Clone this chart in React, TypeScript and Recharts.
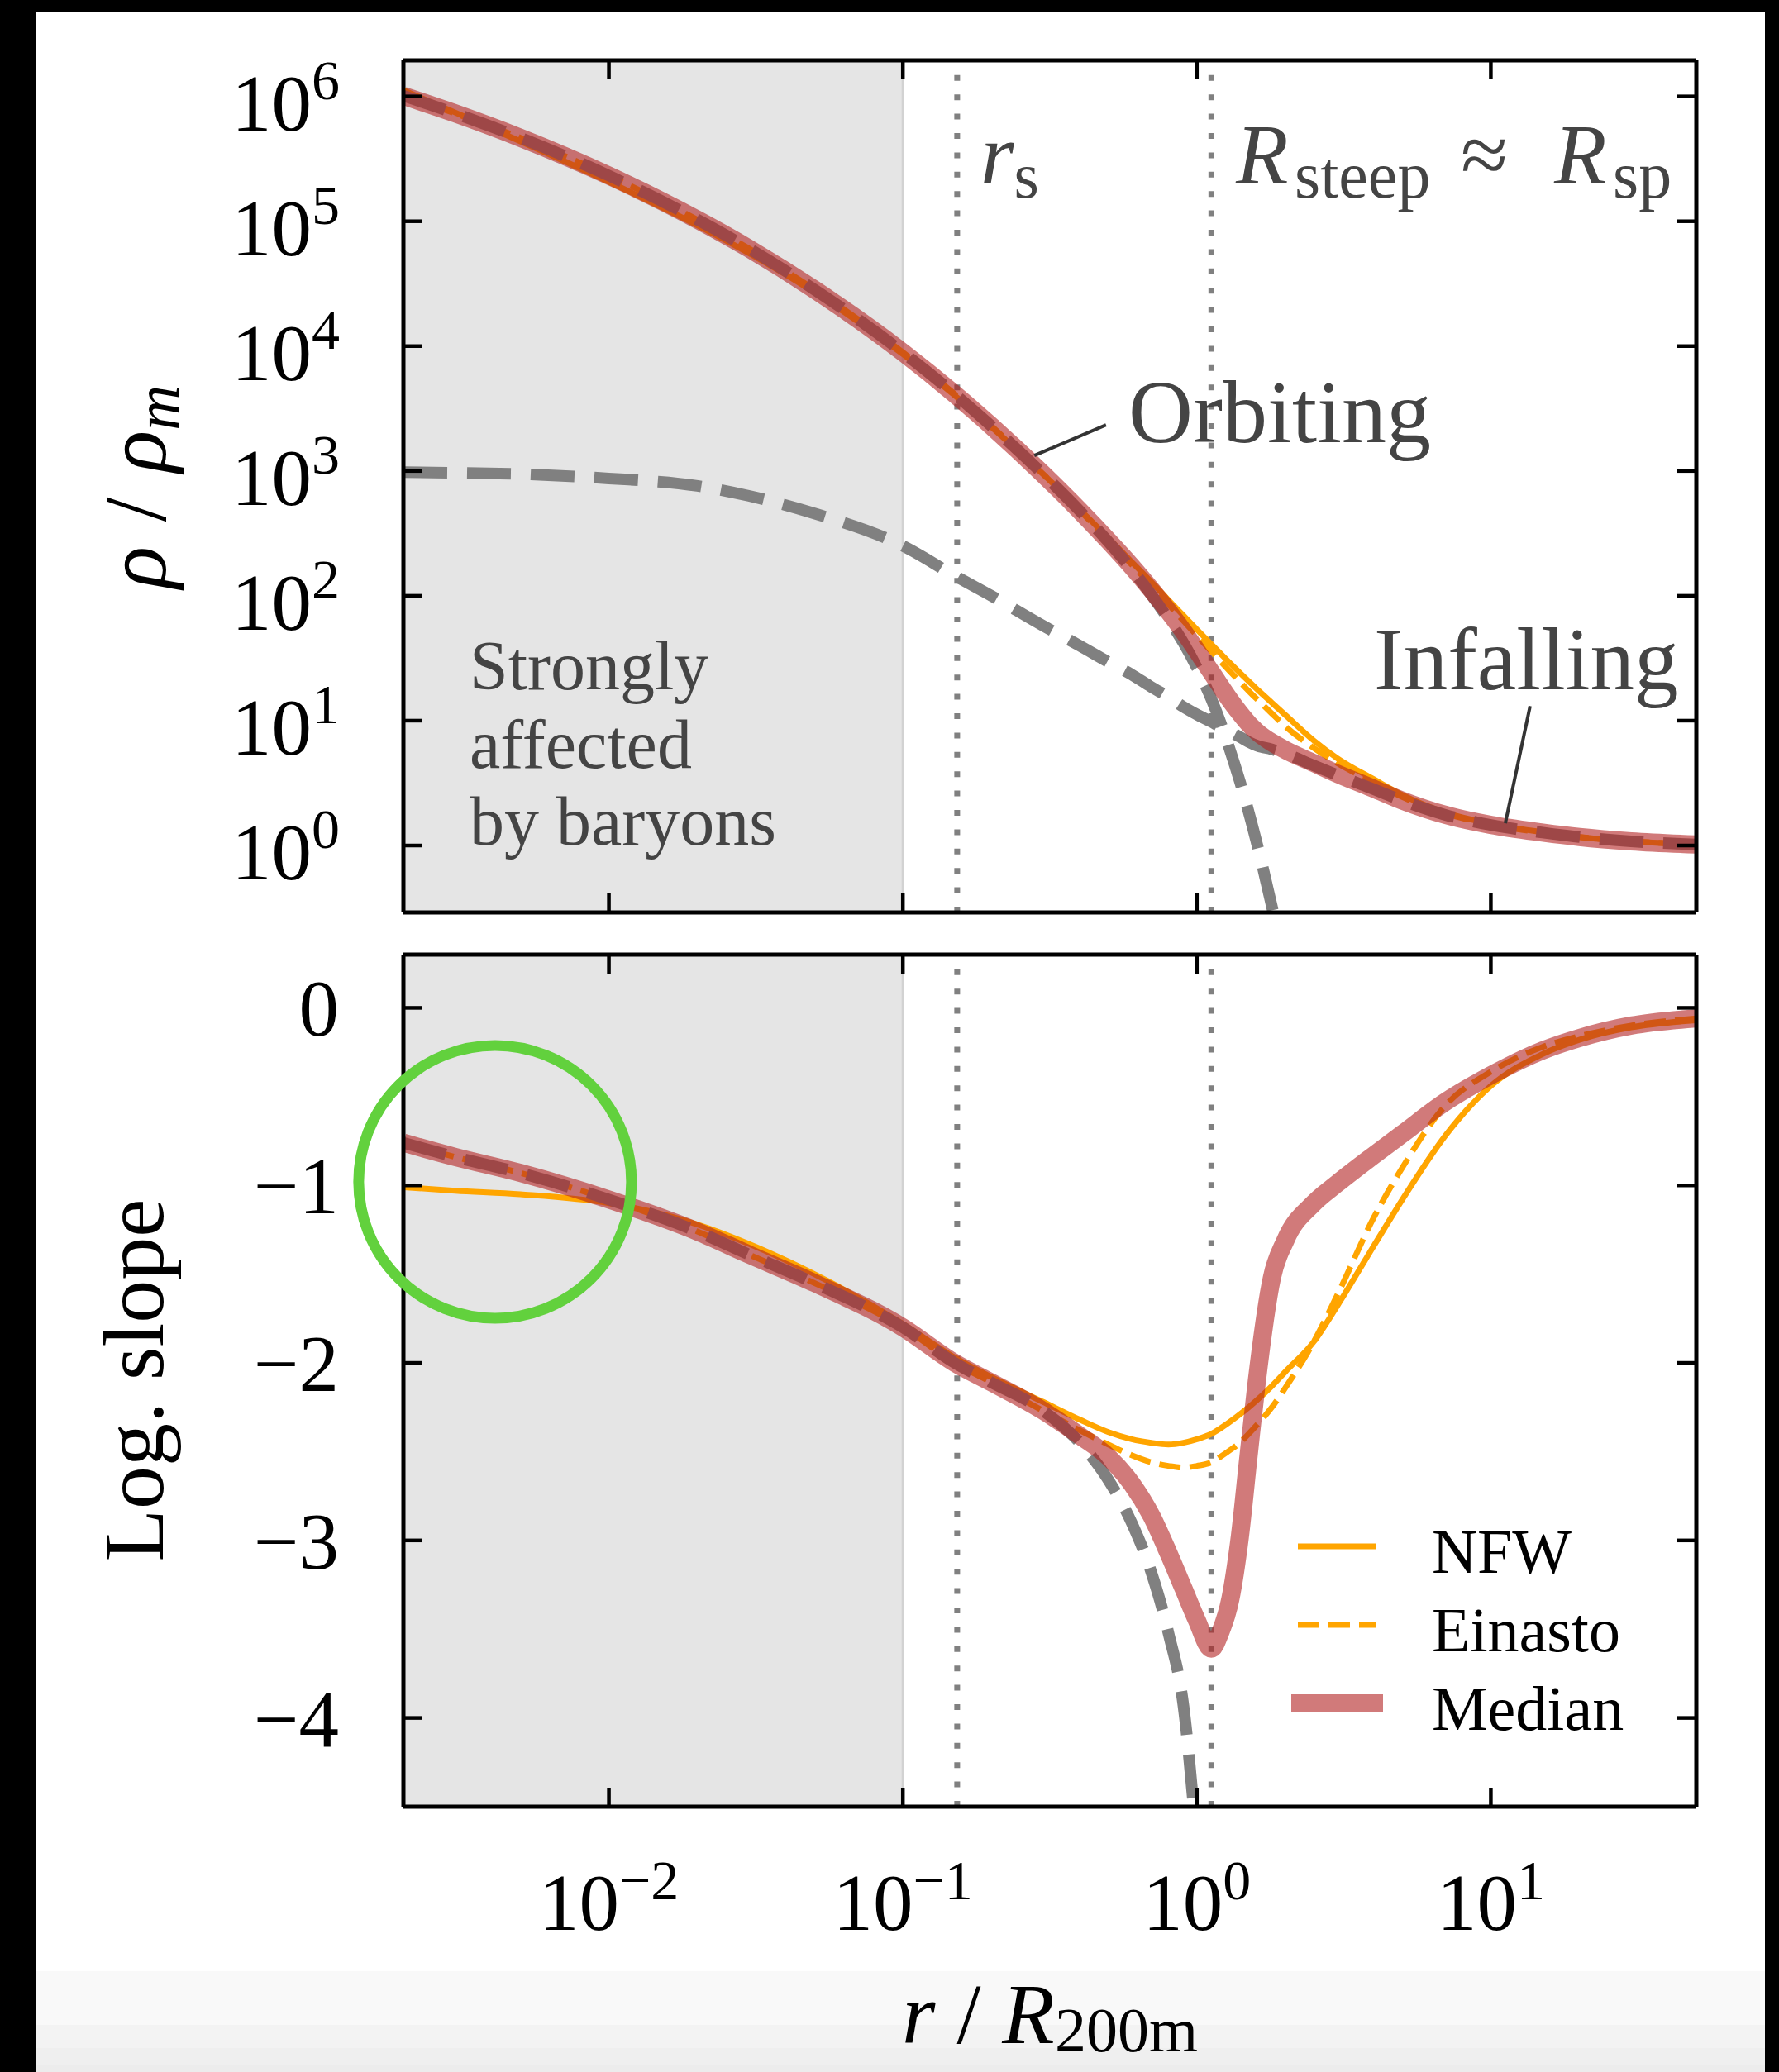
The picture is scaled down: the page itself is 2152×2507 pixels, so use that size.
import React from 'react'
import {
  LineChart,
  Line,
  XAxis,
  YAxis,
  ReferenceArea,
  ReferenceLine,
  ReferenceDot,
} from 'recharts'

const SERIF = '"Liberation Serif", "DejaVu Serif", "Times New Roman", serif'
const FONT = { fontFamily: SERIF }
const INK = '#444444'
const ORANGE = '#ffa500'
const GRAY = '#808080'
const MEDIAN = '#b22222'

// r / R200m sample points
const radius = [
  0.002, 0.003, 0.005, 0.01, 0.02, 0.03, 0.05, 0.1, 0.15, 0.2, 0.3, 0.4, 0.5, 0.6, 0.7, 0.8, 0.9, 1.0,
  1.12, 1.2, 1.3, 1.4, 1.5, 1.6, 1.8, 2, 2.5, 3, 4, 5, 7, 10, 15, 20, 30, 50,
]

// rho / rho_m
const densityMedian = [
  1.01e6, 7.31e5, 4.66e5, 2.32e5, 1.03e5, 6.03e4, 2.84e4, 8910, 4130, 2290, 942, 480, 276, 172, 112, 75.3,
  51.9, 36.3, 24.4, 19.1, 14.5, 11.5, 9.46, 8.15, 6.68, 5.82, 4.57, 3.76, 2.85, 2.29, 1.76, 1.46, 1.27, 1.17,
  1.08, 1.02,
]
const densityNfw = [
  1.12e6, 7.43e5, 4.37e5, 2.07e5, 9.27e4, 5.53e4, 2.69e4, 8610, 4030, 2250, 942, 490, 290, 187, 129, 92.7,
  69.5, 53.7, 40.9, 34.7, 28.7, 24.2, 20.7, 17.9, 13.9, 11.1, 6.92, 5.01, 3.39, 2.54, 1.84, 1.49, 1.28, 1.17,
  1.08, 1.02,
]
const densityEinasto = [
  1.01e6, 7.31e5, 4.66e5, 2.32e5, 1.03e5, 6.03e4, 2.84e4, 8910, 4130, 2290, 942, 482, 281, 178, 121, 85.5,
  63.1, 48.0, 35.9, 30.1, 24.6, 20.5, 17.3, 14.9, 11.4, 9.0, 6.03, 4.57, 3.2, 2.45, 1.81, 1.47, 1.27, 1.17,
  1.08, 1.02,
]
const densityOrbiting = [
  1.01e6, 7.31e5, 4.66e5, 2.32e5, 1.03e5, 6.03e4, 2.84e4, 8910, 4130, 2290, 942, 478, 270, 163, 102, 65.0,
  42.0, 26.6, 14.9, 9.84, 5.69, 3.27, 1.86, 1.04, 0.324, 0.1, null, null, null, null, null, null, null, null,
  null, null,
]
const densityInfalling = [
  977, 966, 944, 871, 759, 631, 457, 251, 145, 100, 57.5, 39.8, 29.5, 23.4, 18.6, 15.5, 12.9, 11.2, 9.77,
  8.91, 8.13, 7.41, 6.76, 6.31, 5.89, 5.43, 4.37, 3.67, 2.82, 2.29, 1.76, 1.46, 1.27, 1.17, 1.08, 1.02,
]

// logarithmic slope
const slopeMedian = [
  -0.76, -0.84, -0.93, -1.08, -1.26, -1.39, -1.55, -1.8, -2.0, -2.11, -2.27, -2.41, -2.53, -2.68, -2.86,
  -3.07, -3.27, -3.45, -3.61, -3.52, -3.33, -2.98, -2.52, -2.1, -1.52, -1.31, -1.1, -0.99, -0.83, -0.71,
  -0.53, -0.38, -0.24, -0.17, -0.1, -0.06,
]
const slopeNfw = [
  -1.01, -1.03, -1.05, -1.1, -1.22, -1.33, -1.5, -1.78, -1.97, -2.08, -2.22, -2.32, -2.39, -2.43, -2.45,
  -2.46, -2.45, -2.43, -2.4, -2.37, -2.33, -2.29, -2.25, -2.21, -2.13, -2.05, -1.88, -1.68, -1.34, -1.08,
  -0.72, -0.44, -0.26, -0.18, -0.11, -0.07,
]
const slopeEinasto = [
  -0.76, -0.84, -0.93, -1.08, -1.26, -1.39, -1.55, -1.8, -2.0, -2.11, -2.27, -2.38, -2.46, -2.52, -2.56,
  -2.58, -2.59, -2.58, -2.56, -2.53, -2.49, -2.45, -2.4, -2.35, -2.25, -2.14, -1.88, -1.62, -1.18, -0.9,
  -0.55, -0.36, -0.22, -0.16, -0.1, -0.06,
]
const slopeOrbiting = [
  -0.76, -0.84, -0.93, -1.08, -1.26, -1.39, -1.55, -1.8, -2.0, -2.11, -2.27, -2.45, -2.66, -2.9, -3.18,
  -3.52, -3.93, -4.7, -5.6, null, null, null, null, null, null, null, null, null, null, null, null, null,
  null, null, null, null,
]

const xTicks = [0.01, 0.1, 1, 10]
const densityTicks = [1, 10, 100, 1e3, 1e4, 1e5, 1e6]
const slopeTicks = [0, -1, -2, -3, -4]

const X_DOMAIN: [number, number] = [0.002, 50]
const DENSITY_DOMAIN: [number, number] = [0.291, 1.945e6]
const SLOPE_DOMAIN: [number, number] = [-4.5, 0.3]

const rScale = 0.153
const rSteep = 1.12
const baryonLimit = 0.1

const densityRows = radius.map((r, i) => ({
  r,
  median: densityMedian[i],
  nfw: densityNfw[i],
  einasto: densityEinasto[i],
  orbiting: densityOrbiting[i],
  infalling: densityInfalling[i],
}))

const slopeRows = radius.map((r, i) => ({
  r,
  median: slopeMedian[i],
  nfw: slopeNfw[i],
  einasto: slopeEinasto[i],
  orbiting: slopeOrbiting[i],
}))

const styles = {
  nfw: { stroke: ORANGE, strokeWidth: 7 },
  einasto: { stroke: ORANGE, strokeWidth: 7, strokeDasharray: '26 11' },
  component: { stroke: GRAY, strokeWidth: 14, strokeDasharray: '53 24' },
  median: { stroke: MEDIAN, strokeWidth: 22, strokeOpacity: 0.6 },
}

const legendItems = [
  { name: 'NFW', ...styles.nfw },
  { name: 'Einasto', ...styles.einasto },
  { name: 'Median', ...styles.median },
]

const TICK_LEN = 23
const tickStroke = { stroke: '#000', strokeWidth: 4.5 }
const FRAME = { stroke: '#000', strokeWidth: 5 }

const toMinus = (s: string) => s.replace('-', '\u2212')

const tickUp = (p: any) => <line x1={p.x} y1={p.y} x2={p.x} y2={p.y - TICK_LEN} {...tickStroke} />
const tickDown = (p: any) => <line x1={p.x} y1={p.y} x2={p.x} y2={p.y + TICK_LEN} {...tickStroke} />
const tickLeftward = (p: any) => <line x1={p.x} y1={p.y} x2={p.x - TICK_LEN} y2={p.y} {...tickStroke} />

const densityLeftTick = (p: any) => {
  const exp = Math.round(Math.log10(p.payload.value))
  return (
    <g>
      <line x1={p.x} y1={p.y} x2={p.x + TICK_LEN} y2={p.y} {...tickStroke} />
      <text x={p.x - 77} y={p.y + 41} textAnchor="end" style={FONT} fontSize={97} fill="#000">
        10
        <tspan dy={-38} fontSize={68}>
          {exp}
        </tspan>
      </text>
    </g>
  )
}

const slopeLeftTick = (p: any) => (
  <g>
    <line x1={p.x} y1={p.y} x2={p.x + TICK_LEN} y2={p.y} {...tickStroke} />
    <text x={p.x - 78} y={p.y + 34} textAnchor="end" style={FONT} fontSize={97} fill="#000">
      {toMinus(String(p.payload.value))}
    </text>
  </g>
)

const radiusBottomTick = (p: any) => {
  const exp = Math.round(Math.log10(p.payload.value))
  return (
    <g>
      <line x1={p.x} y1={p.y} x2={p.x} y2={p.y - TICK_LEN} {...tickStroke} />
      <text x={p.x} y={p.y + 149} textAnchor="middle" style={FONT} fontSize={97} fill="#000">
        10
        <tspan dy={-37} fontSize={68}>
          {toMinus(String(exp))}
        </tspan>
      </text>
    </g>
  )
}

const lineCommon = {
  xAxisId: 'b',
  yAxisId: 'l',
  type: 'monotone' as const,
  dot: false,
  activeDot: false,
  isAnimationActive: false,
}

function xAxes(bottomHeight: number, topHeight: number, bottomTick: any) {
  return [
    <XAxis
      key="xb"
      xAxisId="b"
      dataKey="r"
      type="number"
      scale="log"
      domain={X_DOMAIN}
      allowDataOverflow
      ticks={xTicks}
      interval={0}
      orientation="bottom"
      height={bottomHeight}
      tickSize={0}
      tickMargin={0}
      tickLine={false}
      axisLine={FRAME}
      tick={bottomTick}
    />,
    <XAxis
      key="xt"
      xAxisId="t"
      dataKey="r"
      type="number"
      scale="log"
      domain={X_DOMAIN}
      allowDataOverflow
      ticks={xTicks}
      interval={0}
      orientation="top"
      height={topHeight}
      tickSize={0}
      tickMargin={0}
      tickLine={false}
      axisLine={FRAME}
      tick={tickDown}
    />,
  ]
}

function guideLines() {
  return [
    <ReferenceArea key="shade" xAxisId="b" yAxisId="l" x1={X_DOMAIN[0]} x2={baryonLimit} fill="#e5e5e5" fillOpacity={1} stroke="none" />,
    <ReferenceLine key="edge" xAxisId="b" yAxisId="l" x={baryonLimit} stroke="#d2d2d2" strokeWidth={3} />,
    <ReferenceLine key="rs" xAxisId="b" yAxisId="l" x={rScale} stroke={GRAY} strokeWidth={7} strokeDasharray="7 16.4" />,
    <ReferenceLine key="rsteep" xAxisId="b" yAxisId="l" x={rSteep} stroke={GRAY} strokeWidth={7} strokeDasharray="7 16.4" />,
  ]
}

function DensityPanel() {
  return (
    <LineChart width={2152} height={1200} data={densityRows} margin={{ top: 0, right: 0, bottom: 0, left: 0 }}>
      {guideLines()}
      <Line {...lineCommon} dataKey="nfw" {...styles.nfw} />
      <Line {...lineCommon} dataKey="einasto" {...styles.einasto} />
      <Line {...lineCommon} dataKey="orbiting" {...styles.component} />
      <Line {...lineCommon} dataKey="infalling" {...styles.component} />
      <Line {...lineCommon} dataKey="median" {...styles.median} />
      <ReferenceLine
        xAxisId="b"
        yAxisId="l"
        segment={[{ x: 0.491, y: 2337 }, { x: 0.28, y: 1330 }]}
        stroke="#333"
        strokeWidth={4}
      />
      <ReferenceLine
        xAxisId="b"
        yAxisId="l"
        segment={[{ x: 13.6, y: 13.1 }, { x: 11.2, y: 1.51 }]}
        stroke="#333"
        strokeWidth={4}
      />
      {xAxes(96, 73, tickUp)}
      <YAxis
        yAxisId="l"
        type="number"
        scale="log"
        domain={DENSITY_DOMAIN}
        allowDataOverflow
        ticks={densityTicks}
        interval={0}
        orientation="left"
        width={488}
        tickSize={0}
        tickMargin={0}
        tickLine={false}
        axisLine={FRAME}
        tick={densityLeftTick}
      />
      <YAxis
        yAxisId="r"
        type="number"
        scale="log"
        domain={DENSITY_DOMAIN}
        allowDataOverflow
        ticks={densityTicks}
        interval={0}
        orientation="right"
        width={100}
        tickSize={0}
        tickMargin={0}
        tickLine={false}
        axisLine={FRAME}
        tick={tickLeftward}
      />
    </LineChart>
  )
}

function SlopePanel() {
  return (
    <LineChart width={2152} height={1407} data={slopeRows} margin={{ top: 0, right: 0, bottom: 0, left: 0 }}>
      {guideLines()}
      <Line {...lineCommon} dataKey="nfw" {...styles.nfw} />
      <Line {...lineCommon} dataKey="einasto" {...styles.einasto} />
      <Line {...lineCommon} dataKey="orbiting" {...styles.component} />
      <Line {...lineCommon} dataKey="median" {...styles.median} />
      {xAxes(321, 55, radiusBottomTick)}
      <YAxis
        yAxisId="l"
        type="number"
        domain={SLOPE_DOMAIN}
        allowDataOverflow
        ticks={slopeTicks}
        interval={0}
        orientation="left"
        width={488}
        tickSize={0}
        tickMargin={0}
        tickLine={false}
        axisLine={FRAME}
        tick={slopeLeftTick}
      />
      <YAxis
        yAxisId="r"
        type="number"
        domain={SLOPE_DOMAIN}
        allowDataOverflow
        ticks={slopeTicks}
        interval={0}
        orientation="right"
        width={100}
        tickSize={0}
        tickMargin={0}
        tickLine={false}
        axisLine={FRAME}
        tick={tickLeftward}
      />
      <ReferenceDot
        xAxisId="b"
        yAxisId="l"
        x={0.0041}
        y={-0.98}
        r={165}
        fill="none"
        stroke="#62d13d"
        strokeWidth={13}
        ifOverflow="visible"
      />
    </LineChart>
  )
}

function Overlay() {
  return (
    <svg
      width={2152}
      height={2507}
      style={{ position: 'absolute', left: 0, top: 0, pointerEvents: 'none', fontFamily: SERIF }}
    >
      {/* axis titles */}
      <text transform="translate(200 589) rotate(-90)" textAnchor="middle" fontSize={106} fill="#000" style={FONT}>
        <tspan fontStyle="italic">ρ</tspan>
        <tspan dx={30}>/</tspan>
        <tspan dx={30} fontStyle="italic">ρ</tspan>
        <tspan fontStyle="italic" fontSize={76} dy={16}>m</tspan>
      </text>
      <text transform="translate(197 1670) rotate(-90)" textAnchor="middle" fontSize={104} fill="#000" style={FONT}>
        Log. slope
      </text>
      <text x={1270} y={2472} textAnchor="middle" fontSize={104} fill="#000" style={FONT}>
        <tspan fontStyle="italic">r</tspan>
        <tspan dx={26}>/</tspan>
        <tspan dx={26} fontStyle="italic">R</tspan>
        <tspan fontSize={76} dy={10}>200m</tspan>
      </text>

      {/* annotations */}
      <text x={1186} y={222} fontSize={104} fill={INK} style={FONT}>
        <tspan fontStyle="italic">r</tspan>
        <tspan fontSize={78} dy={17}>s</tspan>
      </text>
      <text x={1495} y={222} fontSize={104} fill={INK} fontStyle="italic" style={FONT}>R</text>
      <text x={1566} y={239} fontSize={80} fill={INK} style={FONT}>steep</text>
      <text x={1767} y={222} fontSize={104} fill={INK} style={FONT}>≈</text>
      <text x={1880} y={222} fontSize={104} fill={INK} fontStyle="italic" style={FONT}>R</text>
      <text x={1951} y={239} fontSize={80} fill={INK} style={FONT}>sp</text>
      <text x={1365} y={535} fontSize={108} fill={INK} style={FONT}>Orbiting</text>
      <text x={1662} y={834} fontSize={107} fill={INK} style={FONT}>Infalling</text>
      <text x={568} y={834} fontSize={84} fill={INK} style={FONT}>Strongly</text>
      <text x={568} y={929} fontSize={84} fill={INK} style={FONT}>affected</text>
      <text x={568} y={1022} fontSize={84} fill={INK} style={FONT}>by baryons</text>

      {/* legend */}
      {legendItems.map((item, i) => {
        const y = 1871 + i * 95
        const wide = item.strokeWidth > 10
        return (
          <g key={item.name}>
            <line
              x1={wide ? 1562 : 1570}
              x2={wide ? 1673 : 1664}
              y1={y}
              y2={y}
              stroke={item.stroke}
              strokeWidth={item.strokeWidth}
              strokeOpacity={(item as any).strokeOpacity ?? 1}
              strokeDasharray={(item as any).strokeDasharray}
            />
            <text x={1732} y={y + 32} fontSize={76} fill="#000" style={FONT}>
              {item.name}
            </text>
          </g>
        )
      })}
    </svg>
  )
}

export default function App() {
  return (
    <div style={{ position: 'absolute', left: 0, top: 0, width: 2152, height: 2507, background: '#000', overflow: 'hidden', fontFamily: SERIF }}>
      <div
        style={{
          position: 'absolute',
          left: 43,
          top: 14,
          width: 2092,
          height: 2493,
          background:
            'linear-gradient(to bottom, #fff 0px, #fff 2371px, #f9f9f9 2371px, #f9f9f9 2436px, #f3f3f3 2436px, #f3f3f3 2464px, #efefef 2464px, #efefef 2484px, #ececec 2484px)',
        }}
      />
      <div style={{ position: 'absolute', left: 0, top: 0 }}>
        <DensityPanel />
      </div>
      <div style={{ position: 'absolute', left: 0, top: 1100 }}>
        <SlopePanel />
      </div>
      <Overlay />
    </div>
  )
}
